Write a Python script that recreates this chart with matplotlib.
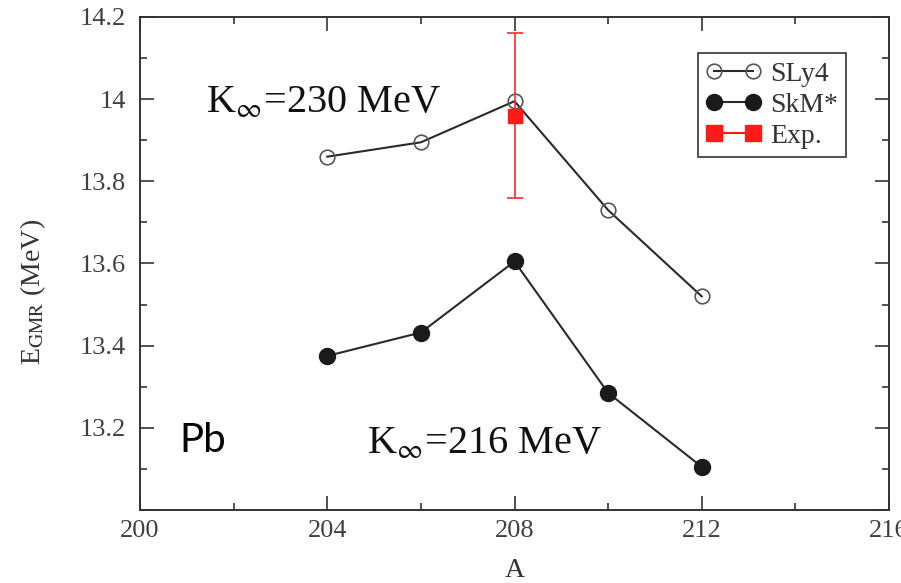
import matplotlib
matplotlib.use("Agg")
import matplotlib.pyplot as plt
from matplotlib.ticker import MultipleLocator, FuncFormatter
from matplotlib.lines import Line2D

plt.rcParams['font.family'] = ['Liberation Serif', 'DejaVu Serif']
plt.rcParams['mathtext.fontset'] = 'stix'

# Data
A_vals = [204, 206, 208, 210, 212]
sly4 = [13.86, 13.895, 13.995, 13.73, 13.52]
skm = [13.375, 13.432, 13.605, 13.285, 13.105]
exp_A = [208]
exp_E = [13.96]
exp_err = [0.2]

fig = plt.figure(figsize=(9.01, 5.83), dpi=100)
ax = fig.add_axes([140/901, 1-510/583, (889-140)/901, (510-17)/583])

line_col = '#2a2a2a'
ax.plot(A_vals, sly4, '-', color=line_col, lw=1.5, marker='o', ms=10.5,
        mfc='none', mec='#555555', mew=1.2, label='SLy4', zorder=3)
ax.plot(A_vals, skm, '-', color=line_col, lw=1.5, marker='o', ms=11.5,
        mfc='#1a1a1a', mec='#1a1a1a', label='SkM*', zorder=3)
ax.errorbar(exp_A, exp_E, yerr=exp_err, fmt='none', ecolor='#ff2a2a',
            elinewidth=1.2, capsize=6, capthick=1.2, zorder=4)
ax.plot(exp_A, exp_E, 's', color='#ff1a1a', ms=10, label='Exp.', zorder=5)

h1, l1 = ax.get_legend_handles_labels()
exp_handle = Line2D([], [], color='#ff1a1a', marker='s', ms=11, lw=1.5)
handles = [h1[0], h1[1], exp_handle]
leg = ax.legend(handles, ['SLy4', 'SkM*', 'Exp.'], loc='upper right',
                bbox_to_anchor=(0.9425, 0.927), numpoints=2, fontsize=20,
                frameon=True, fancybox=False, framealpha=1, edgecolor='#333333',
                handlelength=2.0, handletextpad=0.3, borderpad=0.3,
                labelspacing=0.2, borderaxespad=0)
leg.get_frame().set_linewidth(1.2)
for t in leg.get_texts():
    t.set_color('#333333')

ax.set_xlim(200, 216)
ax.set_ylim(13.0, 14.2)
ax.xaxis.set_major_locator(MultipleLocator(4))
ax.xaxis.set_minor_locator(MultipleLocator(2))
ax.yaxis.set_major_locator(MultipleLocator(0.2))
ax.yaxis.set_minor_locator(MultipleLocator(0.1))

def yfmt(v, pos):
    if abs(v - 13.0) < 1e-6:
        return ''
    s = f'{v:.1f}'
    if s.endswith('.0'):
        s = s[:-2]
    return s
ax.yaxis.set_major_formatter(FuncFormatter(yfmt))
ax.xaxis.set_major_formatter(FuncFormatter(lambda v, p: f'{int(round(v))}'))

ax.tick_params(which='both', direction='in', top=True, right=True,
               colors='#333333', labelcolor='#404040', labelsize=19, width=1.2)
ax.tick_params(which='major', length=10)
ax.tick_params(which='minor', length=5)
ax.tick_params(axis='y', pad=10)
ax.tick_params(axis='x', pad=7)
for sp in ax.spines.values():
    sp.set_color('#333333')
    sp.set_linewidth(1.4)

ax.set_xlabel('A', fontsize=20, color='#333333', labelpad=12)
fig.text(33/901, 1-292/583, r'E$_{\rm GMR}$ (MeV)', rotation=90, fontsize=20,
         color='#333333', ha='center', va='center')

ax.text(201.4, 13.99, r'K$_{\infty}$=230 MeV', fontsize=29, color='#111111',
        ha='left', va='center')
ax.text(204.85, 13.16, r'K$_{\infty}$=216 MeV', fontsize=29, color='#111111',
        ha='left', va='center')
ax.text(200.85, 13.17, 'Pb', fontsize=29, family=['Lato', 'DejaVu Sans'],
        color='black', ha='left', va='center')

fig.savefig('out.png', dpi=100)
